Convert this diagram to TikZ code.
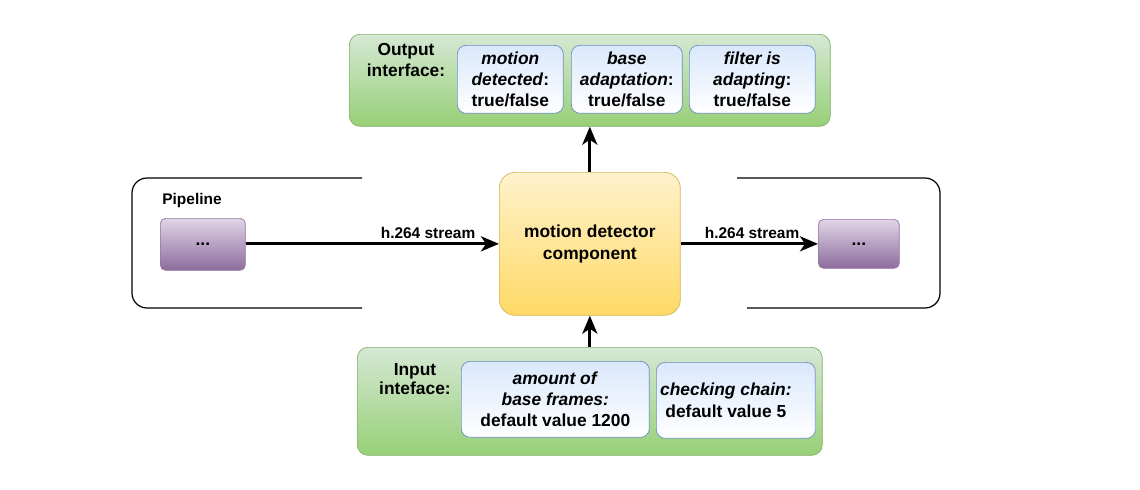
\documentclass[tikz,border=0pt]{standalone}
\usepackage{fontspec}
\setmainfont{Liberation Sans}
\usepackage{tikz}
\usetikzlibrary{positioning, arrows.meta}
\definecolor{grnTop}{HTML}{D5E8D4}
\definecolor{grnBot}{HTML}{97D077}
\definecolor{grnLine}{HTML}{82B366}
\definecolor{bluTop}{HTML}{DAE8FC}
\definecolor{bluLine}{HTML}{6C8EBF}
\definecolor{ylwTop}{HTML}{FFF2CC}
\definecolor{ylwBot}{HTML}{FFD966}
\definecolor{ylwLine}{HTML}{D6B656}
\definecolor{prpTop}{HTML}{E1D5E7}
\definecolor{prpBot}{HTML}{8C6C9C}
\definecolor{prpLine}{HTML}{9673A6}
\newcommand{\txtbig}{\fontsize{9.9}{12.2}\selectfont\bfseries}
\newcommand{\txtsmall}{\fontsize{8.8}{10.5}\selectfont\bfseries}
\tikzset{
  grp/.style={rectangle, draw=grnLine, rounded corners=6pt, top color=grnTop,
              bottom color=grnBot, inner sep=0pt, anchor=north west},
  fld/.style={rectangle, draw=bluLine, rounded corners=5pt, top color=bluTop,
              bottom color=white, align=center, inner sep=0pt, anchor=north west,
              font=\txtbig},
  comp/.style={rectangle, draw=ylwLine, rounded corners=9pt, top color=ylwTop,
               bottom color=ylwBot, align=center, inner sep=0pt, anchor=north west,
               font=\txtbig},
  stage/.style={rectangle, draw=prpLine, rounded corners=3pt, top color=prpTop,
                bottom color=prpBot, inner sep=0pt, anchor=north west, font=\txtbig},
  lbl/.style={align=center, inner sep=0pt, font=\txtbig},
  arr/.style={-{Stealth[length=0.36cm, width=0.3cm, inset=0.1cm]}, line width=1.7pt},
  pipe/.style={draw, line width=0.7pt, rounded corners=0.3cm},
}
\begin{document}
\begin{tikzpicture}[x=0.02cm, y=-0.02cm]
  \useasboundingbox (0,0) rectangle (1140,490);
  % output interface (top)
  \node[grp, minimum width=9.62cm, minimum height=1.84cm] (outbox) at (349,34) {};
  \node[lbl] (outlbl) at (406,60) {Output\\interface:};
  \node[fld, minimum width=2.12cm, minimum height=1.36cm] (mdet) at (457,45)
    {\textit{motion}\\\textit{detected}:\\true/false};
  \node[fld, minimum width=2.22cm, minimum height=1.36cm] (badp) at (571,45)
    {\textit{base}\\\textit{adaptation}:\\true/false};
  \node[fld, minimum width=2.52cm, minimum height=1.36cm] (fadp) at (689,45)
    {\textit{filter is}\\\textit{adapting}:\\true/false};
  % pipeline with the component in the middle
  \coordinate (lpt) at (362,178); \coordinate (lpb) at (362,308);
  \coordinate (rpt) at (737,178); \coordinate (rpb) at (747,308);
  \draw[pipe] (lpt) -- (132,178) -- (132,308) -- (lpb);
  \draw[pipe] (rpt) -- (940,178) -- (940,308) -- (rpb);
  \node[lbl, font=\txtsmall] (pipe) at (192,200) {Pipeline};
  \node[stage, minimum width=1.7cm, minimum height=1.04cm] (lstg) at (160,218) {...};
  \node[comp, minimum width=3.62cm, minimum height=2.86cm] (comp) at (499,172)
    {motion detector\\component};
  \node[stage, minimum width=1.62cm, minimum height=0.98cm] (rstg) at (818,219) {...};
  \draw[arr] (lstg.east |- comp.west) -- node[pos=0.72, above=2pt, font=\txtsmall, inner sep=0pt] {h.264 stream} (comp.west);
  \draw[arr] (comp.east) -- node[pos=0.52, above=2pt, font=\txtsmall, inner sep=0pt] {h.264 stream} (comp.east -| rstg.west);
  % input interface (bottom)
  \node[grp, minimum width=9.3cm, minimum height=2.16cm] (inbox) at (357,347) {};
  \node[lbl] (inlbl) at (415,379) {Input\\[-1pt]inteface:};
  \node[fld, minimum width=3.76cm, minimum height=1.52cm] (amt) at (461,361)
    {\textit{amount of}\\\textit{base frames:}\\default value 1200};
  \node[fld, minimum width=3.18cm, minimum height=1.52cm] (chk) at (656,362)
    {\textit{checking chain:}\hspace*{0.4cm}\\default value 5\hspace*{0.4cm}};
  \draw[arr] (comp.north) -- (comp.north |- outbox.south);
  \draw[arr] (comp.south |- inbox.north) -- (comp.south);
\end{tikzpicture}
\end{document}
